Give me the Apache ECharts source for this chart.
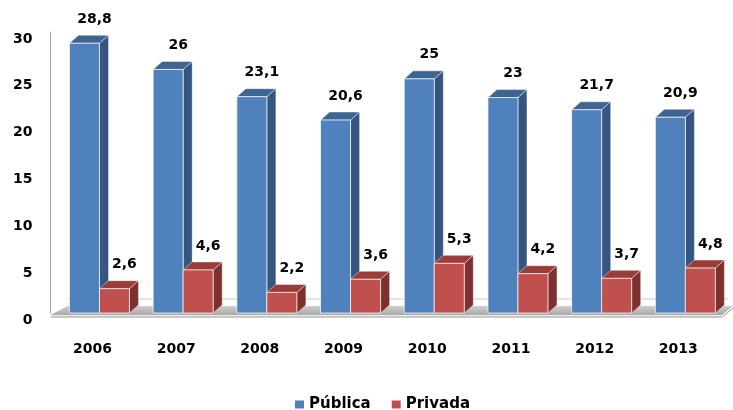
<!DOCTYPE html>
<html>
<head>
<meta charset="utf-8">
<script src="https://cdn.jsdelivr.net/npm/echarts@6/dist/echarts.min.js"></script>
<style>
  html, body { margin: 0; padding: 0; background: #fff; }
  #chart { width: 733px; height: 410px; }
</style>
</head>
<body>
<div id="chart"></div>
<script>
// anos e valores
const years = ['2006', '2007', '2008', '2009', '2010', '2011', '2012', '2013']
const publica = [28.8, 26, 23.1, 20.6, 25, 23, 21.7, 20.9]
const privada = [2.6, 4.6, 2.2, 3.6, 5.3, 4.2, 3.7, 4.8]
const yTicks = [0, 5, 10, 15, 20, 25, 30]

const FONT = 'DejaVu Sans'
const BAR_W = 30
const DX = 9
const DY = 8

const colors = {
  'Pública': { front: '#4F81BD', top: '#3E6592', side: '#34567F' },
  'Privada': { front: '#C0504D', top: '#9A3C3A', side: '#7E302E' }
}

function fmt(v) {
  return String(v).replace('.', ',')
}

// barra 3d: frente, topo, lado e rotulo
function bar3d(seriesName, shift) {
  const c = colors[seriesName]
  return function(params, api) {
    const i = api.value(0)
    const v = api.value(1)
    const p = api.coord([i, v])
    const b = api.coord([i, 0])
    const x0 = p[0] + shift
    const y = p[1]
    const base = b[1]
    return {
      type: 'group',
      children: [
        {
          type: 'polygon',
          shape: { points: [[x0 + BAR_W, y], [x0 + BAR_W + DX, y - DY], [x0 + BAR_W + DX, base - DY], [x0 + BAR_W, base]] },
          style: { fill: c.side, stroke: 'rgba(255,255,255,0.35)', lineWidth: 1 }
        },
        {
          type: 'polygon',
          shape: { points: [[x0, y], [x0 + BAR_W, y], [x0 + BAR_W + DX, y - DY], [x0 + DX, y - DY]] },
          style: { fill: c.top, stroke: 'rgba(255,255,255,0.45)', lineWidth: 1 }
        },
        {
          type: 'rect',
          shape: { x: x0, y: y, width: BAR_W, height: base - y },
          style: { fill: c.front, stroke: 'rgba(255,255,255,0.7)', lineWidth: 1 }
        },
        {
          type: 'text',
          x: x0 + BAR_W / 2 + 10,
          y: y - 24,
          style: {
            text: fmt(v),
            fill: '#000',
            font: 'bold 14px "' + FONT + '"',
            align: 'center',
            verticalAlign: 'middle'
          }
        }
      ]
    }
  }
}

// piso cinza em perspectiva
function floor(params, api) {
  const cs = params.coordSys
  const left = cs.x - 7
  const right = cs.x + cs.width - 5
  const front = cs.y + cs.height + 2
  return {
    type: 'group',
    silent: true,
    children: [
      {
        type: 'line',
        shape: { x1: cs.x + 10, y1: front - 16, x2: right + 6, y2: front - 16 },
        style: { stroke: '#C8C8C8', lineWidth: 1 }
      },
      {
        type: 'polygon',
        shape: { points: [[left, front], [right, front], [right + 11, front - 9], [left + 17, front - 9]] },
        style: {
          fill: new echarts.graphic.LinearGradient(0, 0, 0, 1, [
            { offset: 0, color: '#D0D0D0' },
            { offset: 1, color: '#A8A8A8' }
          ])
        }
      },
      {
        type: 'polygon',
        shape: { points: [[left, front], [right, front], [right, front + 2], [left, front + 2]] },
        style: { fill: '#EDEDED' }
      },
      {
        type: 'polyline',
        shape: { points: [[left, front + 2], [right, front + 2], [right + 11, front - 7]] },
        style: { stroke: '#9A9A9A', lineWidth: 1, fill: null }
      }
    ]
  }
}

const labelText = {
  color: '#000',
  fontFamily: FONT,
  fontSize: 14,
  fontWeight: 'bold'
}

const chart = echarts.init(document.getElementById('chart'))
chart.setOption({
  animation: false,
  grid: { left: 57.6, width: 669.6, top: 32, bottom: 97 },
  legend: {
    data: ['Pública', 'Privada'],
    left: 290,
    top: 392,
    icon: 'rect',
    itemWidth: 9,
    itemHeight: 8,
    itemGap: 21,
    textStyle: { color: '#000', fontFamily: FONT, fontSize: 15, fontWeight: 'bold' }
  },
  xAxis: {
    type: 'category',
    data: years,
    axisLine: { show: false },
    axisTick: { show: false },
    axisLabel: {
      margin: 29,
      formatter: '{a|{value}}',
      rich: { a: Object.assign({ padding: [0, 14, 0, 0] }, labelText) }
    }
  },
  yAxis: {
    type: 'value',
    min: yTicks[0],
    max: yTicks[yTicks.length - 1],
    interval: 5,
    offset: 7,
    axisLine: { show: true, lineStyle: { color: '#A0A0A0' } },
    axisTick: { show: false },
    splitLine: { show: false },
    axisLabel: {
      margin: 18,
      formatter: '{a|{value}}',
      rich: { a: Object.assign({ padding: [14, 0, 0, 0] }, labelText) }
    }
  },
  series: [
    {
      type: 'custom',
      name: 'floor',
      renderItem: floor,
      data: [[0, 0]],
      z: 1,
      silent: true
    },
    {
      type: 'custom',
      name: 'Pública',
      itemStyle: { color: colors['Pública'].front },
      renderItem: bar3d('Pública', -BAR_W),
      data: publica.map((v, i) => [i, v]),
      z: 2
    },
    {
      type: 'custom',
      name: 'Privada',
      itemStyle: { color: colors['Privada'].front },
      renderItem: bar3d('Privada', 0),
      data: privada.map((v, i) => [i, v]),
      z: 3
    }
  ]
})
</script>
</body>
</html>
